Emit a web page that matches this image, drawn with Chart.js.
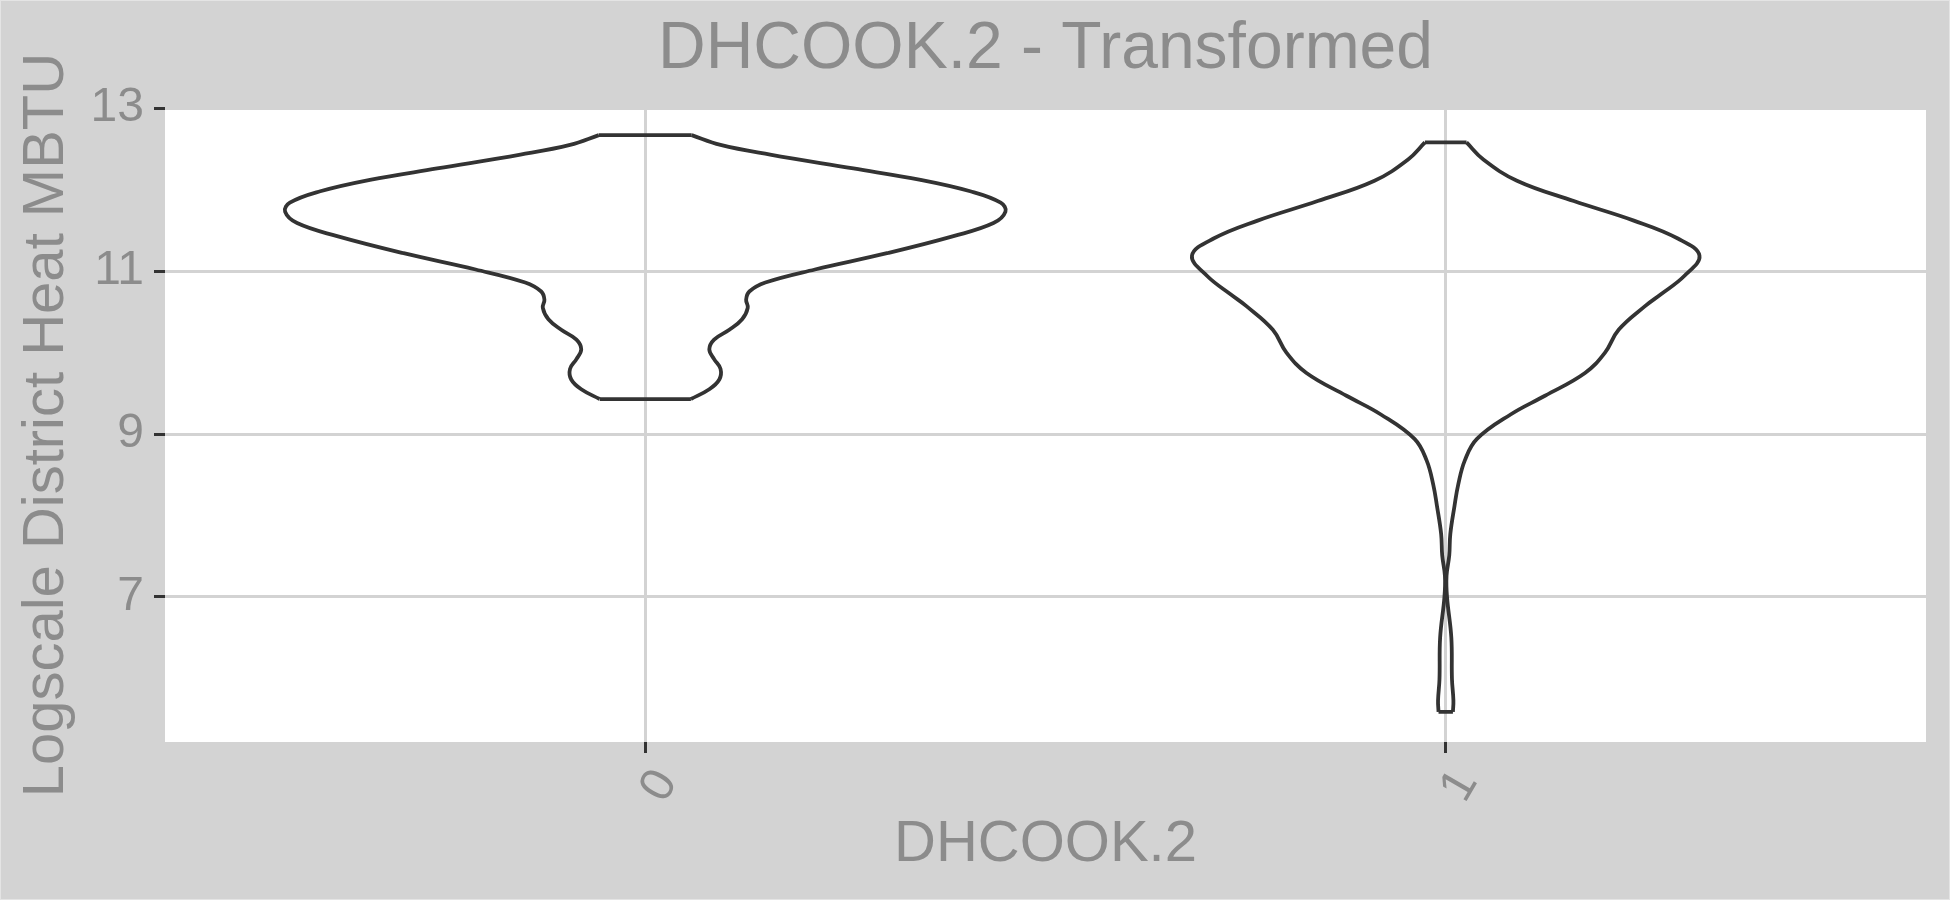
<!DOCTYPE html>
<html>
<head>
<meta charset="utf-8">
<script src="https://cdn.jsdelivr.net/npm/chart.js@4.4.1/dist/chart.umd.min.js"></script>
<style>
  html, body { margin: 0; padding: 0; background: #d3d3d3; }
  #wrap { width: 1950px; height: 900px; }
</style>
</head>
<body>
<div id="wrap"><canvas id="myChart"></canvas></div>
<script>
const categories = ['0', '1'];
const yTicks = [7, 9, 11, 13];

// violin outlines, read bottom -> top: y value and half-width (x-axis units)
const violin0Y = [9.43, 9.55, 9.67, 9.80, 9.92, 10.04, 10.16, 10.28, 10.41, 10.55, 10.65, 10.75, 10.86,
    11.02, 11.22, 11.43, 11.59, 11.73, 11.84, 11.98, 12.12, 12.26, 12.43, 12.55, 12.67];
const violin0Width = [0.057, 0.080, 0.0925, 0.094, 0.086, 0.080, 0.086, 0.105, 0.121, 0.128, 0.126, 0.130, 0.150,
    0.212, 0.302, 0.385, 0.435, 0.450, 0.444, 0.406, 0.344, 0.260, 0.156, 0.094, 0.058];

const violin1Y = [5.59, 5.73, 5.99, 6.50, 7.00, 7.26, 7.51, 7.77, 8.12, 8.38, 8.68, 8.94, 9.24, 9.47, 9.75,
    10.00, 10.28, 10.57, 10.71, 10.94, 11.19, 11.40, 11.62, 11.86, 12.11, 12.37, 12.58];
const violin1Width = [0.009, 0.0096, 0.0078, 0.007, 0.0016, 0.001, 0.0044, 0.0057, 0.011, 0.0156, 0.024, 0.039,
    0.081, 0.124, 0.174, 0.199, 0.216, 0.249, 0.268, 0.298, 0.317, 0.290, 0.235, 0.160, 0.089, 0.047, 0.026];

const textColor = '#8c8c8c';
const lineColor = '#333333';
const fontFamily = "'Liberation Sans', Arial, Helvetica, sans-serif";

// each violin: two smooth sides plus flat caps at the data range ends
function violinSets(center, ys, ws) {
    const n = ys.length - 1;
    const left = ys.map((y, i) => ({x: center - ws[i], y: y}));
    const right = ys.map((y, i) => ({x: center + ws[i], y: y}));
    const caps = [left[0], right[0], {x: NaN, y: NaN}, left[n], right[n]];
    return [
        {data: left, tension: 0.4},
        {data: right, tension: 0.4},
        {data: caps, tension: 0},
    ];
}

const data = {
    datasets: violinSets(1, violin0Y, violin0Width)
        .concat(violinSets(2, violin1Y, violin1Width))
        .map(d => Object.assign(d, {
            showLine: true,
            fill: false,
            spanGaps: false,
            borderColor: lineColor,
            borderWidth: 3.8,
            borderJoinStyle: 'round',
            pointRadius: 0,
        })),
};

const panelBg = {
    id: 'panelBg',
    beforeDraw(chart) {
        const {ctx, chartArea: a, width, height} = chart;
        ctx.save();
        ctx.fillStyle = '#e4e4e4';
        ctx.fillRect(0, 0, width, height);
        ctx.fillStyle = '#d3d3d3';
        ctx.fillRect(1, 1, width - 2, height - 2);
        ctx.fillStyle = '#ffffff';
        ctx.fillRect(a.left, a.top, a.right - a.left, a.bottom - a.top);
        ctx.restore();
    }
};

const config = {
    type: 'scatter',
    data: data,
    plugins: [panelBg],
    options: {
        responsive: true,
        maintainAspectRatio: false,
        devicePixelRatio: 1,
        animation: false,
        layout: {padding: {left: 4, right: 24, top: 0, bottom: 10}},
        plugins: {
            legend: {display: false},
            tooltip: {enabled: false},
            title: {
                display: true,
                fullSize: false,
                text: 'DHCOOK.2 - Transformed',
                color: textColor,
                font: {family: fontFamily, size: 66, weight: 'normal'},
                padding: {top: 10, bottom: 19},
            },
        },
        scales: {
            x: {
                type: 'linear',
                min: 0.4,
                max: 2.6,
                afterBuildTicks: (scale) => { scale.ticks = categories.map((c, i) => ({value: i + 1})); },
                afterFit: (scale) => { scale.height = 148; },
                border: {display: false},
                grid: {color: '#d3d3d3', lineWidth: 3, tickColor: lineColor, tickLength: 11, tickWidth: 3},
                ticks: {
                    callback: (v) => categories[v - 1],
                    color: textColor,
                    font: {family: fontFamily, size: 48},
                    minRotation: 60,
                    maxRotation: 60,
                    labelOffset: 21,
                    padding: 7,
                },
                title: {
                    display: true,
                    text: 'DHCOOK.2',
                    color: textColor,
                    font: {family: fontFamily, size: 58},
                    padding: {top: 0, bottom: 10},
                },
            },
            y: {
                min: 5.22,
                max: 13,
                afterBuildTicks: (scale) => { scale.ticks = yTicks.map(v => ({value: v})); },
                afterFit: (scale) => { scale.width = 161; },
                border: {display: false},
                grid: {color: '#d3d3d3', lineWidth: 3, tickColor: lineColor, tickLength: 11, tickWidth: 3},
                ticks: {
                    color: textColor,
                    font: {family: fontFamily, size: 48},
                    padding: 10,
                },
                title: {
                    display: true,
                    text: 'Logscale District Heat MBTU',
                    color: textColor,
                    font: {family: fontFamily, size: 58},
                    padding: {top: 8, bottom: 0},
                },
            },
        },
    },
};

var myChart = new Chart(
    document.getElementById('myChart'),
    config
);
</script>
</body>
</html>
